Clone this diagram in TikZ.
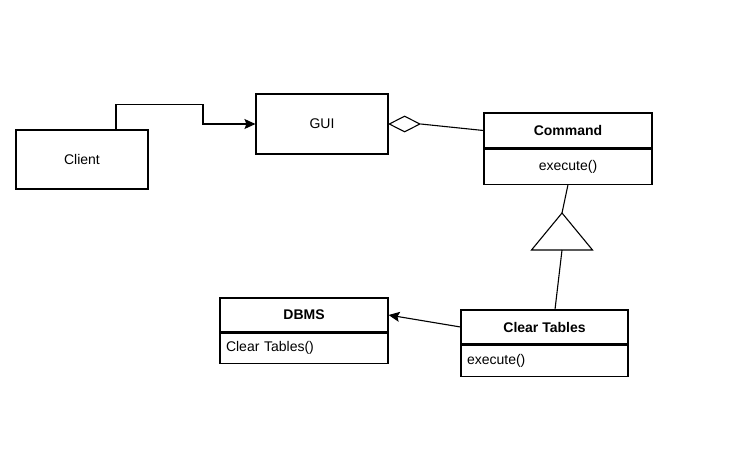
\documentclass[tikz,border=0pt]{standalone}
\usepackage{fontspec}
\setmainfont{Liberation Sans}
\usetikzlibrary{shapes,arrows,arrows.meta,positioning,fit,backgrounds,calc}

\begin{document}
\begin{tikzpicture}[
    x=1pt, y=-1pt,
    box/.style={rectangle, draw, line width=1.1pt, inner sep=0pt, font=\fontsize{14}{16}\selectfont},
    classhead/.style={box, font=\fontsize{14}{16}\selectfont\bfseries},
    classbody/.style={box, text width=#1, align=left, inner xsep=6pt},
    link/.style={line width=1.1pt},
    arrow/.style={-{Stealth[length=11pt, width=10pt, inset=2pt]}, line width=1.1pt}
]
    \useasboundingbox (0,0) rectangle (735,472);

    \node[box, minimum width=132pt, minimum height=59pt] (client) at (82,159.5) {Client};

    \node[box, minimum width=132pt, minimum height=60pt] (gui) at (322,124) {GUI};

    \node[classhead, minimum width=168pt, minimum height=35pt] (cmdhead) at (568,130.5) {Command};
    \node[box, minimum width=168pt, minimum height=35pt, below=0pt of cmdhead] (cmdbody) {execute()};

    \node[classhead, minimum width=167pt, minimum height=34pt] (cthead) at (544.5,327) {Clear Tables};
    \node[classbody=155pt, minimum width=167pt, minimum height=31pt, below=0pt of cthead] (ctbody) {execute()};

    \node[classhead, minimum width=168pt, minimum height=34pt] (dbhead) at (304,315) {DBMS};
    \node[classbody=156pt, minimum width=168pt, minimum height=30pt, below=0pt of dbhead] (dbbody) {Clear Tables()};

    % aggregation diamond on GUI
    \node[diamond, draw, line width=1.1pt, aspect=2, minimum width=31pt, minimum height=16pt, inner sep=0pt, anchor=west] (agg) at (gui.east) {};

    % generalization triangle
    \coordinate (genapex) at (562,213);
    \coordinate (genbase) at (562,250);
    \draw[link] (genapex) -- ++(-30.5,37) -- ++(61,0) -- cycle;

    \draw[arrow] ([xshift=34pt]client.north) -- ++(0,-25) -| (203,124) -- (gui.west);
    \draw[link] (agg.east) -- (cmdhead.west);
    \draw[link] (cmdbody.south) -- (genapex);
    \draw[link] (genbase) -- ([xshift=10.5pt]cthead.north);
    \draw[arrow] (cthead.west) -- (dbhead.east);
\end{tikzpicture}
\end{document}
